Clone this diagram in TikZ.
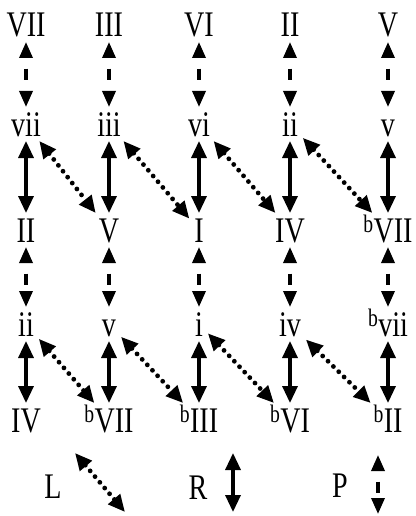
\documentclass[tikz,border=0pt]{standalone}
\usepackage{fontspec}
\setmainfont{Liberation Serif}
\usetikzlibrary{arrows.meta}

\newcommand{\rn}[1]{\scalebox{0.78}[1]{#1}}
\newcommand{\fl}{\textsuperscript{b}}

\tikzset{
  chord/.style={anchor=base, inner sep=0pt, outer sep=5pt, text height=24pt, text depth=0pt,
    font=\fontsize{36}{40}\selectfont},
  Rrel/.style={line width=3.3pt, {Triangle[length=17pt,width=15pt]}-{Triangle[length=17pt,width=15pt]}},
  Prel/.style={line width=3.3pt, {Triangle[length=16pt,width=13pt]}-{Triangle[length=16pt,width=13pt]},
    dash pattern=on 11pt off 14pt, dash phase=13.5pt},
  Lrel/.style={line width=4.8pt, line cap=round, dash pattern=on 0pt off 7.5pt,
    {Triangle[length=17pt,width=15pt]}-{Triangle[length=17pt,width=15pt]}},
}

\begin{document}
\begin{tikzpicture}[x=1pt,y=-1pt]
\useasboundingbox (0,0) rectangle (415,516);

% Row a
\node[chord] (a1) at (26,37) {\rn{VII}};
\node[chord] (a2) at (109,37) {\rn{III}};
\node[chord] (a3) at (199,37) {\rn{VI}};
\node[chord] (a4) at (290,37) {\rn{II}};
\node[chord] (a5) at (388,37) {\rn{V}};

% Row b
\node[chord] (b1) at (26,136) {\rn{vii}};
\node[chord] (b2) at (109,136) {\rn{iii}};
\node[chord] (b3) at (199,136) {\rn{vi}};
\node[chord] (b4) at (290,136) {\rn{ii}};
\node[chord] (b5) at (388,136) {\rn{v}};

% Row c
\node[chord] (c1) at (26,242) {\rn{II}};
\node[chord] (c2) at (109,242) {\rn{V}};
\node[chord] (c3) at (199,242) {\rn{I}};
\node[chord] (c4) at (290,242) {\rn{IV}};
\node[chord] (c5) at (388,242) {\rn{\fl VII}};

% Row d
\node[chord] (d1) at (26,336) {\rn{ii}};
\node[chord] (d2) at (109,336) {\rn{v}};
\node[chord] (d3) at (199,336) {\rn{i}};
\node[chord] (d4) at (290,336) {\rn{iv}};
\node[chord] (d5) at (388,336) {\rn{\fl vii}};

% Row e
\node[chord] (e1) at (26,432) {\rn{IV}};
\node[chord] (e2) at (109,432) {\rn{\fl VII}};
\node[chord] (e3) at (199,432) {\rn{\fl III}};
\node[chord] (e4) at (290,432) {\rn{\fl VI}};
\node[chord] (e5) at (388,432) {\rn{\fl II}};

% P and R down each column
\foreach \c in {1,...,5} {
  \draw[Prel] (a\c) -- (b\c);
  \draw[Rrel] (b\c) -- (c\c);
  \draw[Prel] (c\c) -- (d\c);
  \draw[Rrel] (d\c) -- (e\c);
}

% L to the next column
\foreach \c [count=\n from 2] in {1,...,4} {
  \draw[Lrel] (b\c) -- (c\n);
  \draw[Lrel] (d\c) -- (e\n);
}

% Legend
\node[chord] (L) at (53,498) {\rn{L}};
\coordinate (Ltop) at (75,453);
\coordinate (Lbot) at (125,512);
\draw[Lrel] (Ltop) -- (Lbot);

\node[chord] (R) at (198,499) {\rn{R}};
\coordinate (Rtop) at (233,453);
\coordinate (Rbot) at (233,512);
\draw[Rrel] (Rtop) -- (Rbot);

\node[chord] (P) at (340,497) {\rn{P}};
\coordinate (Ptop) at (378,455);
\coordinate (Pbot) at (378,514);
\draw[Prel] (Ptop) -- (Pbot);

\end{tikzpicture}
\end{document}
